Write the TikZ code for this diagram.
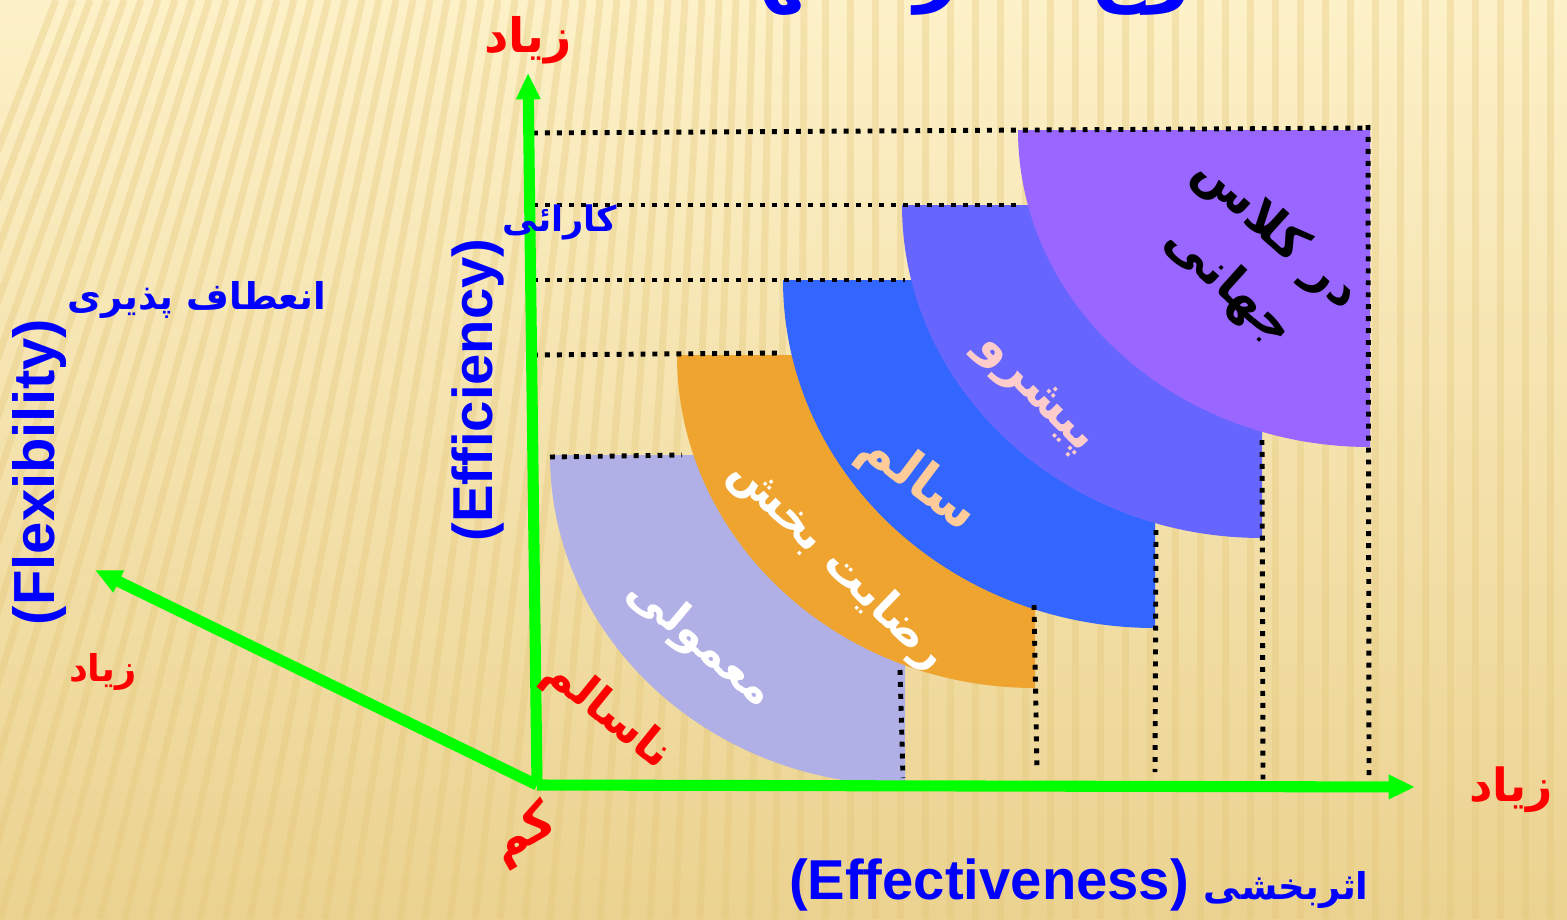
\documentclass[tikz,border=0pt]{standalone}
\usepackage{fontspec}
\setmainfont{Liberation Sans}
\newfontfamily\persianfont[Script=Arabic]{DejaVu Sans}
\TeXXeTstate=1
\usetikzlibrary{arrows.meta, positioning}

\definecolor{axisgreen}{HTML}{00FF00}
\definecolor{labelblue}{HTML}{0000FF}
\definecolor{labelred}{HTML}{FF0000}
\definecolor{bgtop}{HTML}{FDF1C8}
\definecolor{bgbottom}{HTML}{EBD290}
\definecolor{stripecol}{HTML}{E4C678}
\definecolor{lavender}{HTML}{B0B0E6}
\definecolor{bandorange}{HTML}{EFA430}
\definecolor{bandblue}{HTML}{3366FF}
\definecolor{bandslate}{HTML}{6666FF}
\definecolor{bandpurple}{HTML}{9966FF}
\definecolor{peach}{HTML}{FFCC99}
\definecolor{pinkish}{HTML}{FFCCCC}

\newcommand{\farsi}[1]{{\persianfont\bfseries\beginR #1\endR}}

\begin{document}
\begin{tikzpicture}[x=0.02cm, y=-0.02cm,
    % Define the styles
    axis/.style={line width=6.3pt, draw=axisgreen, -{Triangle[length=15pt, width=13pt]}},
    guide/.style={line width=2.8pt, dash pattern=on 2.8pt off 4pt},
    stripe/.style={line width=4pt, draw=stripecol, opacity=0.35},
    axislabel/.style={text=labelblue, font=\bfseries\fontsize{33}{38}\selectfont, inner sep=0pt},
    endlabel/.style={text=labelred, inner sep=0pt},
    bandlabel/.style={inner sep=0pt, align=center}
]

\useasboundingbox (0,0) rectangle (1567,919);

% Background with stripes
\shade[top color=bgtop, bottom color=bgbottom] (0,0) rectangle (1567,919);
\begin{scope}
\clip (0,0) rectangle (1567,919);
\foreach \i in {-12,...,64} {
    \pgfmathsetmacro\tilt{max(0,260-\i*8)}
    \draw[stripe] (\i*25,919) -- (\i*25+\tilt,0);
}
\end{scope}

% Title, cut by the top edge
\node[text=labelblue, font=\fontsize{44}{50}\selectfont, anchor=base] (title) at (975,-3) {\farsi{نوع سازمانها}};

% Define the corners of the bands
\coordinate (C1) at (905,455);
\coordinate (C2) at (1035,355);
\coordinate (C3) at (1155,280);
\coordinate (C4) at (1262,205);
\coordinate (C5) at (1370,130);

% Draw the bands
\fill[lavender] (C1) -- (550,455) arc[start angle=180, end angle=90, x radius=355, y radius=330] -- cycle;
\fill[bandorange] (C2) -- (677,355) arc[start angle=180, end angle=90, x radius=358, y radius=333] -- cycle;
\fill[bandblue] (C3) -- (783,280) arc[start angle=180, end angle=90, x radius=372, y radius=348] -- cycle;
\fill[bandslate] (C4) -- (902,205) arc[start angle=180, end angle=90, x radius=360, y radius=333] -- cycle;
\fill[bandpurple] (C5) -- (1018,130) arc[start angle=180, end angle=90, x radius=352, y radius=317] -- cycle;

% Draw the dotted guides
\draw[guide] (533,133) -- (1370,128);
\draw[guide] (533,205) -- (1022,205);
\draw[guide] (533,280) -- (905,280);
\draw[guide] (533,355) -- (780,353);
\draw[guide] (550,457) -- (682,455);
\draw[guide] (1368,125) -- (1369,775);
\draw[guide] (1262,440) -- (1263,780);
\draw[guide] (1156,530) -- (1155,772);
\draw[guide] (1034,605) -- (1037,770);
\draw[guide] (900,670) -- (903,778);

% Add the band labels
\node[bandlabel, text=white, rotate=-40, font=\fontsize{26}{30}\selectfont] (normal) at (700,643) {\farsi{معمولی}};
\node[bandlabel, text=white, rotate=-44, font=\fontsize{26}{30}\selectfont] (fair) at (838,565) {\farsi{رضایت بخش}};
\node[bandlabel, text=peach, rotate=-37, font=\fontsize{30}{32}\selectfont] (healthy) at (918,482) {\farsi{سالم}};
\node[bandlabel, text=pinkish, rotate=-45, font=\fontsize{28}{30}\selectfont] (leading) at (1035,395) {\farsi{پیشرو}};
\node[bandlabel, text=black, rotate=-42, font=\fontsize{28}{40}\selectfont] (world) at (1252,260) {\farsi{در کلاس}\\\farsi{جهانی}};

% Draw the axes
\coordinate (O) at (537,785);
\coordinate (ytip) at (528,73);
\coordinate (xtip) at (1415,787);
\coordinate (ztip) at (95,570);
\draw[axis] (O) -- (ytip);
\draw[axis] (O) -- (xtip);
\draw[axis] (O) -- (ztip);

% Add the axis labels
\node[endlabel, font=\fontsize{27}{30}\selectfont] (highY) at (528,40) {\farsi{زیاد}};
\node[endlabel, font=\fontsize{21}{24}\selectfont] (highZ) at (103,672) {\farsi{زیاد}};
\node[endlabel, font=\fontsize{26}{30}\selectfont] (highX) at (1511,790) {\farsi{زیاد}};
\node[endlabel, rotate=30, font=\fontsize{28}{30}\selectfont] (low) at (524,835) {\farsi{کم}};
\node[endlabel, rotate=-39, font=\fontsize{26}{30}\selectfont] (unhealthy) at (607,714) {\farsi{ناسالم}};

\node[axislabel, rotate=90] (flex) at (40,472) {(Flexibility)};
\node[text=labelblue, inner sep=0pt, font=\fontsize{21}{26}\selectfont] (flexFa) at (197,300) {\farsi{انعطاف پذیری}};
\node[axislabel, rotate=90, font=\bfseries\fontsize{32}{36}\selectfont] (effic) at (478,390) {(Efficiency)};
\node[text=labelblue, inner sep=0pt, font=\fontsize{20}{24}\selectfont] (efficFa) at (560,222) {\farsi{کارائی}};
\node[axislabel, font=\bfseries\fontsize{32}{36}\selectfont] (effect) at (989,885) {(Effectiveness)};
\node[text=labelblue, inner sep=0pt, font=\fontsize{21}{26}\selectfont, base right=8pt of effect] (effectFa) {\farsi{اثربخشی}};

\end{tikzpicture}
\end{document}
